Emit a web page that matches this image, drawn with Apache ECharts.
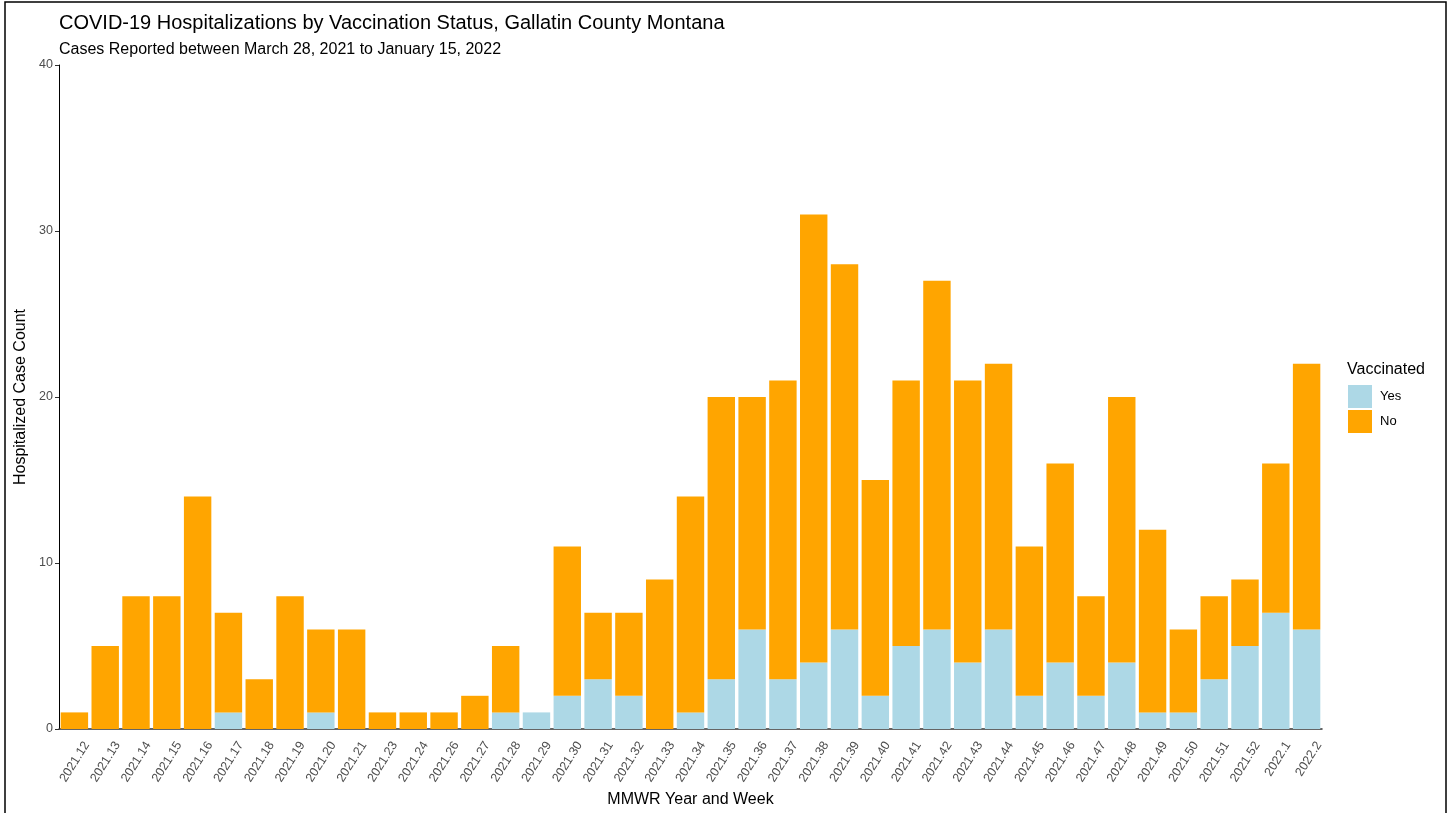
<!DOCTYPE html>
<html>
<head>
<meta charset="utf-8">
<script src="https://cdn.jsdelivr.net/npm/echarts@6/dist/echarts.min.js"></script>
<style>
  html, body { margin: 0; padding: 0; background: #fff; }
  #chart { width: 1448px; height: 813px; }
</style>
</head>
<body>
<div id="chart"></div>
<script>
// MMWR year.week categories
var weeks = ["2021.12", "2021.13", "2021.14", "2021.15", "2021.16", "2021.17", "2021.18", "2021.19",
  "2021.20", "2021.21", "2021.23", "2021.24", "2021.26", "2021.27", "2021.28", "2021.29", "2021.30",
  "2021.31", "2021.32", "2021.33", "2021.34", "2021.35", "2021.36", "2021.37", "2021.38", "2021.39",
  "2021.40", "2021.41", "2021.42", "2021.43", "2021.44", "2021.45", "2021.46", "2021.47", "2021.48",
  "2021.49", "2021.50", "2021.51", "2021.52", "2022.1", "2022.2"];
// vaccinated (Yes)
var yesCounts = [0, 0, 0, 0, 0, 1, 0, 0, 1, 0, 0, 0, 0, 0, 1, 1, 2, 3, 2, 0, 1, 3, 6, 3, 4, 6,
  2, 5, 6, 4, 6, 2, 4, 2, 4, 1, 1, 3, 5, 7, 6];
// not vaccinated (No)
var noCounts = [1, 5, 8, 8, 14, 6, 3, 8, 5, 6, 1, 1, 1, 2, 4, 0, 9, 4, 5, 9, 13, 17, 14, 18, 27, 22,
  13, 16, 21, 17, 16, 9, 12, 6, 16, 11, 5, 5, 4, 9, 16];
var yTicks = [0, 10, 20, 30, 40];

var chart = echarts.init(document.getElementById("chart"));
var tickColor = "#4d4d4d";
var font = "Liberation Sans";

var option = {
  backgroundColor: "#fff",
  animation: false,
  title: [
    {
      text: "COVID-19 Hospitalizations by Vaccination Status, Gallatin County Montana",
      left: 54, top: 8,
      textStyle: { fontFamily: font, fontSize: 20, fontWeight: "normal", color: "#000" }
    },
    {
      text: "Cases Reported between March 28, 2021 to January 15, 2022",
      left: 54, top: 37,
      textStyle: { fontFamily: font, fontSize: 16, fontWeight: "normal", color: "#000" }
    },
    {
      text: "Vaccinated",
      left: 1342, top: 357,
      textStyle: { fontFamily: font, fontSize: 16, fontWeight: "normal", color: "#000" }
    }
  ],
  legend: {
    orient: "vertical",
    left: 1343, top: 380,
    itemWidth: 24, itemHeight: 23, itemGap: 2,
    icon: "rect",
    data: ["Yes", "No"],
    textStyle: { fontFamily: font, fontSize: 13, color: "#000", padding: [0, 0, 0, 3] }
  },
  grid: { left: 59, right: 126, top: 65, bottom: 84, containLabel: false },
  xAxis: {
    type: "category",
    data: weeks,
    name: "MMWR Year and Week",
    nameLocation: "middle",
    nameGap: 63,
    nameTextStyle: { fontFamily: font, fontSize: 16, color: "#000" },
    axisLine: { lineStyle: { color: "#333", width: 1.5 } },
    axisTick: { alignWithLabel: true, length: 4, lineStyle: { color: "#333" } },
    axisLabel: {
      rotate: 58, interval: 0, margin: 6,
      verticalAlign: "top", padding: [8, 0, 0, 0],
      fontFamily: font, fontSize: 12.5, color: tickColor
    }
  },
  yAxis: {
    type: "value",
    min: yTicks[0], max: yTicks[yTicks.length - 1], interval: 10,
    name: "Hospitalized Case Count",
    nameLocation: "middle",
    nameGap: 25,
    nameTextStyle: { fontFamily: font, fontSize: 16, color: "#000" },
    splitLine: { show: false },
    axisLine: { show: true, lineStyle: { color: "#000", width: 1 } },
    axisTick: { show: true, length: 4, lineStyle: { color: "#333" } },
    axisLabel: { margin: 6, fontFamily: font, fontSize: 12.5, color: tickColor }
  },
  series: [
    {
      name: "Yes", type: "bar", stack: "total",
      data: yesCounts,
      barCategoryGap: "11%",
      itemStyle: { color: "#ADD8E6" }
    },
    {
      name: "No", type: "bar", stack: "total",
      data: noCounts,
      barCategoryGap: "11%",
      itemStyle: { color: "#FFA500" }
    }
  ],
  graphic: [
    {
      type: "rect", silent: true,
      shape: { x: 5, y: 2, width: 1441, height: 830 },
      style: { fill: "none", stroke: "#000", lineWidth: 1.5 }
    }
  ]
};
chart.setOption(option);
</script>
</body>
</html>
